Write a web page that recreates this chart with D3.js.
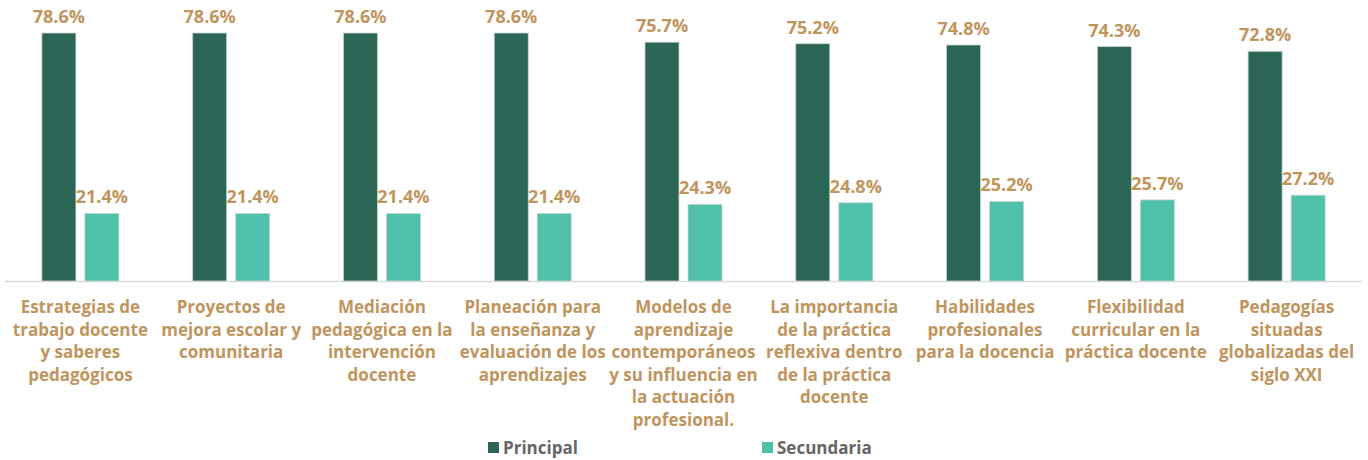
<!DOCTYPE html>
<meta charset="utf-8">
<style>
body { margin: 0; background: #fff; }
text { font-family: "Open Sans", sans-serif; font-weight: 700; }
</style>
<svg width="1368" height="460"></svg>
<script src="https://d3js.org/d3.v7.min.js"></script>
<script>

var categories = [
  ["Estrategias de", "trabajo docente", "y saberes", "pedagógicos"],
  ["Proyectos de", "mejora escolar y", "comunitaria"],
  ["Mediación", "pedagógica en la", "intervención", "docente"],
  ["Planeación para", "la enseñanza y", "evaluación de los", "aprendizajes"],
  ["Modelos de", "aprendizaje", "contemporáneos", "y su influencia en", "la actuación", "profesional."],
  ["La importancia", "de la práctica", "reflexiva dentro", "de la práctica", "docente"],
  ["Habilidades", "profesionales", "para la docencia"],
  ["Flexibilidad", "curricular en la", "práctica docente"],
  ["Pedagogías", "situadas", "globalizadas del", "siglo XXI"]
];
var principal = [78.6, 78.6, 78.6, 78.6, 75.7, 75.2, 74.8, 74.3, 72.8];
var secundaria = [21.4, 21.4, 21.4, 21.4, 24.3, 24.8, 25.2, 25.7, 27.2];
var seriesNames = ["Principal", "Secundaria"];
var colors = ["#2b6556", "#4fc1aa"];

var svg = d3.select("svg");
var baseY = 281;

var x = d3.scaleBand()
  .domain(d3.range(categories.length))
  .range([5, 1362]);

var y = d3.scaleLinear()
  .domain([0, 80])
  .range([baseY, baseY - 80 * 3.155]);

var barW = 34, gap = 9;

var rows = categories.map(function(c, i) {
  return { i: i, lines: c, vals: [principal[i], secundaria[i]] };
});

svg.append("line")
  .attr("x1", 5).attr("x2", 1362)
  .attr("y1", baseY + 0.5).attr("y2", baseY + 0.5)
  .attr("stroke", "#d9d9d9")
  .attr("stroke-width", 1.5);

var g = svg.selectAll("g.cat")
  .data(rows)
  .enter().append("g")
  .attr("class", "cat");

[0, 1].forEach(function(s) {
  var off = s === 0 ? -(gap / 2 + barW) : gap / 2;
  g.append("rect")
    .attr("x", function(d) { return x(d.i) + x.bandwidth() / 2 + off; })
    .attr("y", function(d) { return y(d.vals[s]); })
    .attr("width", barW)
    .attr("height", function(d) { return baseY - y(d.vals[s]); })
    .attr("fill", colors[s])
    .attr("stroke", "#c9d3d0")
    .attr("stroke-width", 0.8);

  g.append("text")
    .attr("x", function(d) { return x(d.i) + x.bandwidth() / 2 + off + barW / 2; })
    .attr("y", function(d) { return y(d.vals[s]) - 10; })
    .attr("text-anchor", "middle")
    .attr("fill", "#c0955d")
    .attr("font-size", 18)
    .text(function(d) { return d.vals[s].toFixed(1) + "%"; });
});

g.each(function(d) {
  var t = d3.select(this).append("text")
    .attr("text-anchor", "middle")
    .attr("fill", "#c0955d")
    .attr("font-size", 17);
  d.lines.forEach(function(l, k) {
    t.append("tspan")
      .attr("x", x(d.i) + x.bandwidth() / 2)
      .attr("y", 313 + k * 22.6)
      .text(l);
  });
});

var legend = svg.selectAll("g.leg")
  .data(seriesNames)
  .enter().append("g")
  .attr("transform", function(d, i) { return "translate(" + (488 + i * 274) + ",442)"; });

legend.append("rect")
  .attr("width", 11).attr("height", 11)
  .attr("fill", function(d, i) { return colors[i]; });

legend.append("text")
  .attr("x", 15).attr("y", 11.5)
  .attr("fill", "#666666")
  .attr("font-size", 17)
  .text(function(d) { return d; });

</script>
